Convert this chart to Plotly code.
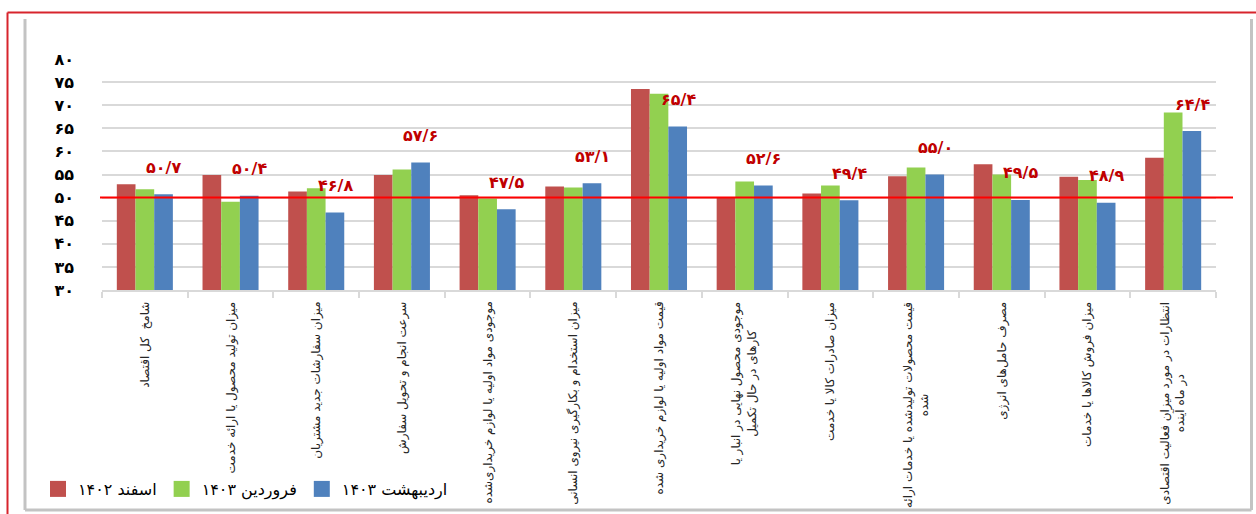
import plotly.graph_objects as go

categories = [
    "شامخ  کل اقتصاد",
    "میزان تولید محصول یا ارائه خدمت",
    "میزان سفارشات جدید مشتریان",
    "سرعت انجام و تحویل سفارش",
    "موجودی مواد اولیه یا لوازم خریداری‌شده",
    "میزان استخدام و بکارگیری نیروی انسانی",
    "قیمت مواد اولیه یا لوازم خریداری شده",
    "موجودی محصول نهایی در انبار یا<br>کارهای در حال تکمیل",
    "میزان صادرات کالا یا خدمت",
    "قیمت محصولات تولیدشده یا خدمات ارائه<br>شده",
    "مصرف حامل‌های انرژی",
    "میزان فروش کالاها یا خدمات",
    "انتظارات در مورد میزان فعالیت اقتصادی<br>در ماه آینده",
]

series_names = ["اسفند ۱۴۰۲", "فروردین ۱۴۰۳", "اردیبهشت ۱۴۰۳"]
esfand_1402 = [52.9, 54.9, 51.3, 54.9, 50.5, 52.4, 73.5, 50.0, 50.9, 54.6, 57.2, 54.5, 58.6]
farvardin_1403 = [51.8, 49.1, 52.0, 56.1, 49.8, 52.2, 72.5, 53.5, 52.6, 56.5, 55.0, 53.8, 68.4]
ordibehesht_1403 = [50.7, 50.4, 46.8, 57.6, 47.5, 53.1, 65.4, 52.6, 49.4, 55.0, 49.5, 48.9, 64.4]
colors = ["#C0504D", "#92D050", "#4F81BD"]

y_tick_vals = [30, 35, 40, 45, 50, 55, 60, 65, 70, 75, 80]
threshold = 50

PERSIAN = str.maketrans("0123456789", "۰۱۲۳۴۵۶۷۸۹")


def fa(num, decimals=0):
    s = f"{num:.{decimals}f}".replace(".", "/")
    return s.translate(PERSIAN)


y_tick_text = [fa(v) for v in y_tick_vals]
value_labels = [fa(v, 1) for v in ordibehesht_1403]

# layout geometry (pixels)
W, H = 1256, 514
L, R, T, B = 102, 40, 59, 224
PW, PH = W - L - R, H - T - B


def px_x(px):
    return (px - L) / PW


def px_y(py):
    return (H - B - py) / PH


FONT = "DejaVu Sans"

fig = go.Figure()
for name, vals, col in zip(series_names, [esfand_1402, farvardin_1403, ordibehesht_1403], colors):
    fig.add_trace(go.Bar(x=categories, y=vals, name=name, showlegend=False,
                         marker=dict(color=col, line=dict(width=0))))
# legend entries with larger square swatches
for name, col in zip(series_names, colors):
    fig.add_trace(go.Scatter(x=[None], y=[None], mode="markers", name=name, showlegend=True,
                             marker=dict(symbol="square", size=16, color=col)))

annotations = []
for cat, v, lab in zip(categories, ordibehesht_1403, value_labels):
    annotations.append(dict(
        x=cat, y=v, xref="x", yref="y", text="<b>" + lab + "</b>", showarrow=False,
        xshift=19, yshift=27, yanchor="middle",
        font=dict(family=FONT, size=16, color="#C00000"),
    ))
for cat in categories:
    annotations.append(dict(
        x=cat, y=0, xref="x", yref="paper", text=cat, showarrow=False,
        textangle=-90, yanchor="top", yshift=-10, align="center",
        font=dict(family=FONT, size=12, color="#262626"),
    ))

shapes = [
    # threshold line at 50
    dict(type="line", xref="paper", yref="y", x0=px_x(100), x1=px_x(1233), y0=threshold, y1=threshold,
         line=dict(color="#FF0000", width=2), layer="above"),
    # outer red frame
    dict(type="line", xref="paper", yref="paper", x0=px_x(7.5), x1=px_x(7.5), y0=px_y(12.5), y1=px_y(520),
         line=dict(color="#D7242C", width=2)),
    dict(type="line", xref="paper", yref="paper", x0=px_x(7.5), x1=px_x(1262), y0=px_y(12.5), y1=px_y(12.5),
         line=dict(color="#D7242C", width=2)),
    # gray frame
    dict(type="line", xref="paper", yref="paper", x0=px_x(25), x1=px_x(25), y0=px_y(19), y1=px_y(510),
         line=dict(color="#C3C3C3", width=3)),
    dict(type="line", xref="paper", yref="paper", x0=px_x(1251.5), x1=px_x(1251.5), y0=px_y(19), y1=px_y(510),
         line=dict(color="#C3C3C3", width=3)),
    dict(type="line", xref="paper", yref="paper", x0=px_x(25), x1=px_x(1251.5), y0=px_y(510), y1=px_y(510),
         line=dict(color="#C3C3C3", width=3)),
]

fig.update_layout(
    width=W, height=H,
    margin=dict(l=L, r=R, t=T, b=B, autoexpand=False),
    paper_bgcolor="white", plot_bgcolor="white",
    barmode="group", bargap=0.346, bargroupgap=0,
    font=dict(family=FONT, color="#000000"),
    showlegend=True,
    legend=dict(orientation="h", x=px_x(38), y=px_y(489), xanchor="left", yanchor="middle",
                font=dict(family=FONT, size=16, color="#000000"), bgcolor="rgba(0,0,0,0)",
                traceorder="normal"),
    annotations=annotations,
    shapes=shapes,
)
fig.update_xaxes(
    type="category", showticklabels=False, showgrid=False,
    showline=True, linecolor="#D9D9D9", linewidth=1.5,
    ticks="outside", tickson="boundaries", ticklen=6, tickcolor="#D9D9D9", tickwidth=1.5,
)
fig.update_yaxes(
    range=[30, 80], tickvals=y_tick_vals, ticktext=y_tick_text,
    showgrid=True, gridcolor="#D9D9D9", gridwidth=1.5, zeroline=False, showline=False,
    ticks="", ticklabelstandoff=27,
    tickfont=dict(family=FONT, size=16, color="#000000", weight="bold"),
)

fig.write_html("out.html", config={"displayModeBar": False},
               post_script="document.body.style.margin='0px';document.body.style.overflow='hidden';")
